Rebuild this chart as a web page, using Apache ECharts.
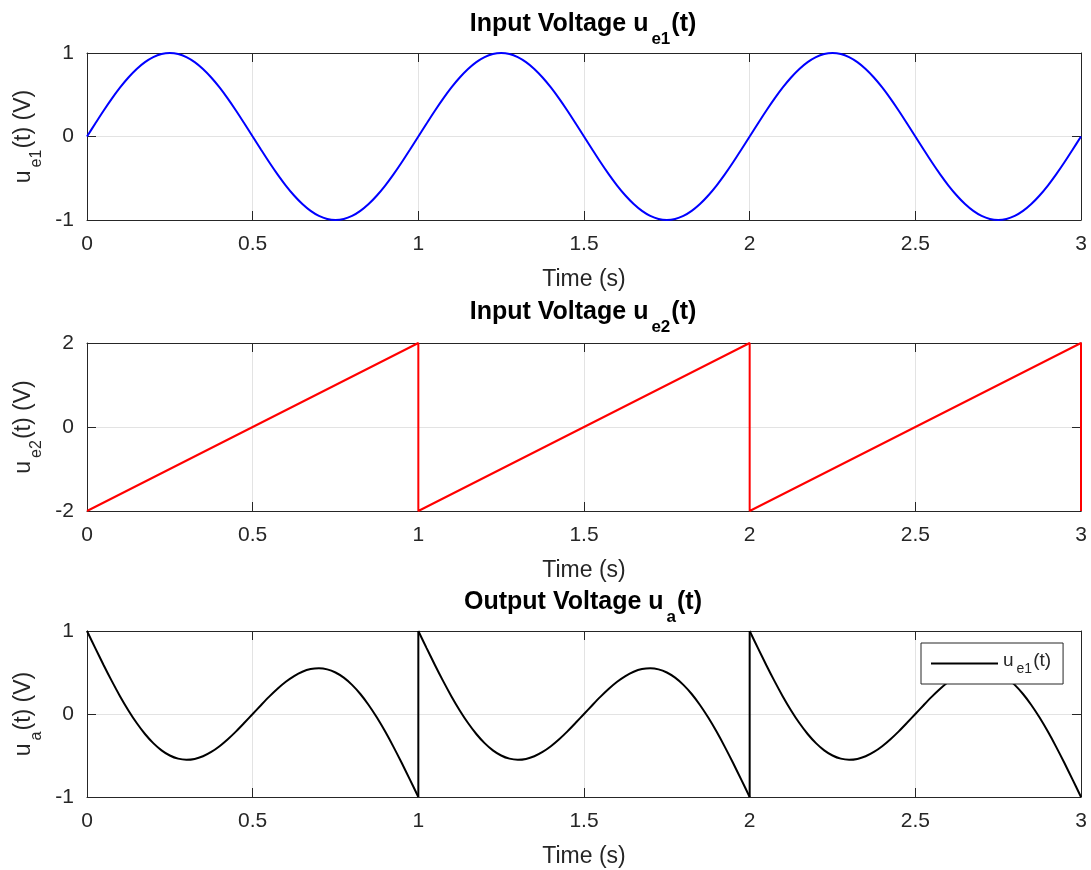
<!DOCTYPE html>
<html>
<head>
<meta charset="utf-8">
<script src="https://cdn.jsdelivr.net/npm/echarts@6/dist/echarts.min.js"></script>
<style>
  html, body { margin: 0; background: #fff; }
  #chart { width: 1091px; height: 870px; }
</style>
</head>
<body>
<div id="chart"></div>
<script>
// input voltage u_e1, sampled every 0.025 s
const sineTime = [0, 0.025, 0.05, 0.075, 0.1, 0.125, 0.15, 0.175, 0.2, 0.225, 0.25, 0.275, 0.3, 0.325, 0.35, 0.375, 0.4, 0.425, 0.45, 0.475,
  0.5, 0.525, 0.55, 0.575, 0.6, 0.625, 0.65, 0.675, 0.7, 0.725, 0.75, 0.775, 0.8, 0.825, 0.85, 0.875, 0.9, 0.925, 0.95, 0.975,
  1, 1.025, 1.05, 1.075, 1.1, 1.125, 1.15, 1.175, 1.2, 1.225, 1.25, 1.275, 1.3, 1.325, 1.35, 1.375, 1.4, 1.425, 1.45, 1.475,
  1.5, 1.525, 1.55, 1.575, 1.6, 1.625, 1.65, 1.675, 1.7, 1.725, 1.75, 1.775, 1.8, 1.825, 1.85, 1.875, 1.9, 1.925, 1.95, 1.975,
  2, 2.025, 2.05, 2.075, 2.1, 2.125, 2.15, 2.175, 2.2, 2.225, 2.25, 2.275, 2.3, 2.325, 2.35, 2.375, 2.4, 2.425, 2.45, 2.475,
  2.5, 2.525, 2.55, 2.575, 2.6, 2.625, 2.65, 2.675, 2.7, 2.725, 2.75, 2.775, 2.8, 2.825, 2.85, 2.875, 2.9, 2.925, 2.95, 2.975, 3]
const sineValue = [0, 0.156, 0.309, 0.454, 0.588, 0.707, 0.809, 0.891, 0.951, 0.988, 1, 0.988, 0.951, 0.891, 0.809, 0.707, 0.588, 0.454, 0.309, 0.156,
  0, -0.156, -0.309, -0.454, -0.588, -0.707, -0.809, -0.891, -0.951, -0.988, -1, -0.988, -0.951, -0.891, -0.809, -0.707, -0.588, -0.454, -0.309, -0.156,
  0, 0.156, 0.309, 0.454, 0.588, 0.707, 0.809, 0.891, 0.951, 0.988, 1, 0.988, 0.951, 0.891, 0.809, 0.707, 0.588, 0.454, 0.309, 0.156,
  0, -0.156, -0.309, -0.454, -0.588, -0.707, -0.809, -0.891, -0.951, -0.988, -1, -0.988, -0.951, -0.891, -0.809, -0.707, -0.588, -0.454, -0.309, -0.156,
  0, 0.156, 0.309, 0.454, 0.588, 0.707, 0.809, 0.891, 0.951, 0.988, 1, 0.988, 0.951, 0.891, 0.809, 0.707, 0.588, 0.454, 0.309, 0.156,
  0, -0.156, -0.309, -0.454, -0.588, -0.707, -0.809, -0.891, -0.951, -0.988, -1, -0.988, -0.951, -0.891, -0.809, -0.707, -0.588, -0.454, -0.309, -0.156, 0]

// input voltage u_e2 (sawtooth corners)
const sawTime = [0, 1, 1, 2, 2, 3, 3]
const sawValue = [-2, 2, -2, 2, -2, 2, -2]

// output voltage u_a, one list per period, sampled every 0.025 s inside the period
const periodStart = [0, 1, 2]
const outPhase = [0, 0.025, 0.05, 0.075, 0.1, 0.125, 0.15, 0.175, 0.2, 0.225, 0.25, 0.275, 0.3, 0.325, 0.35, 0.375, 0.4, 0.425, 0.45, 0.475,
  0.5, 0.525, 0.55, 0.575, 0.6, 0.625, 0.65, 0.675, 0.7, 0.725, 0.75, 0.775, 0.8, 0.825, 0.85, 0.875, 0.9, 0.925, 0.95, 0.975, 1]
const outPeriod1 = [1, 0.794, 0.591, 0.396, 0.212, 0.043, -0.109, -0.241, -0.351, -0.438, -0.5, -0.538, -0.551, -0.541, -0.509, -0.457, -0.388, -0.304, -0.209, -0.106,
  0, 0.106, 0.209, 0.304, 0.388, 0.457, 0.509, 0.541, 0.551, 0.538, 0.5, 0.438, 0.351, 0.241, 0.109, -0.043, -0.212, -0.396, -0.591, -0.794, -1]
const outPeriod2 = [1, 0.794, 0.591, 0.396, 0.212, 0.043, -0.109, -0.241, -0.351, -0.438, -0.5, -0.538, -0.551, -0.541, -0.509, -0.457, -0.388, -0.304, -0.209, -0.106,
  0, 0.106, 0.209, 0.304, 0.388, 0.457, 0.509, 0.541, 0.551, 0.538, 0.5, 0.438, 0.351, 0.241, 0.109, -0.043, -0.212, -0.396, -0.591, -0.794, -1]
const outPeriod3 = [1, 0.794, 0.591, 0.396, 0.212, 0.043, -0.109, -0.241, -0.351, -0.438, -0.5, -0.538, -0.551, -0.541, -0.509, -0.457, -0.388, -0.304, -0.209, -0.106,
  0, 0.106, 0.209, 0.304, 0.388, 0.457, 0.509, 0.541, 0.551, 0.538, 0.5, 0.438, 0.351, 0.241, 0.109, -0.043, -0.212, -0.396, -0.591, -0.794, -1]
const outPeriods = [outPeriod1, outPeriod2, outPeriod3]

const FONT = '"Liberation Sans", Arial, Helvetica, sans-serif'
const AXIS = '#262626'

function rich(size, sub, weight, color, lh) {
  return {
    m: { fontSize: size, fontWeight: weight, color, fontFamily: FONT, verticalAlign: 'top', lineHeight: lh },
    s: { fontSize: sub, fontWeight: weight, color, fontFamily: FONT, verticalAlign: 'bottom', padding: [0, 1, 0, 3] },
  }
}

const grids = [
  { left: 87, top: 53, width: 994, height: 167 },
  { left: 87, top: 343, width: 994, height: 168 },
  { left: 87, top: 631, width: 994, height: 166 },
]
const titleParts = [['Input Voltage u', 'e1'], ['Input Voltage u', 'e2'], ['Output Voltage u', 'a']]
const titleTops = [12, 300, 590]
const ySubs = ['e1', 'e2', 'a']
const yRanges = [[-1, 1, 1], [-2, 2, 2], [-1, 1, 1]]

const xAxes = []
const yAxes = []
grids.forEach((g, i) => {
  const line = { show: true, onZero: false, lineStyle: { color: AXIS, width: 1 } }
  const tick = { show: true, inside: true, length: 9, lineStyle: { color: AXIS } }
  xAxes.push({
    gridIndex: i, type: 'value', min: 0, max: 3, interval: 0.5, position: 'bottom',
    axisLine: line, axisTick: tick,
    axisLabel: { margin: 14, fontSize: 21, color: AXIS, fontFamily: FONT },
    splitLine: { show: true, lineStyle: { color: '#e3e3e3' } },
    name: 'Time (s)', nameLocation: 'middle', nameGap: 48,
    nameTextStyle: { fontSize: 23, color: AXIS, fontFamily: FONT },
  })
  xAxes.push({
    gridIndex: i, type: 'value', min: 0, max: 3, interval: 0.5, position: 'top',
    axisLine: line, axisTick: tick, axisLabel: { show: false }, splitLine: { show: false },
  })
  const [mn, mx, step] = yRanges[i]
  yAxes.push({
    gridIndex: i, type: 'value', min: mn, max: mx, interval: step, position: 'left',
    axisLine: line, axisTick: tick,
    axisLabel: { margin: 13, fontSize: 21, color: AXIS, fontFamily: FONT },
    splitLine: { show: true, lineStyle: { color: '#e3e3e3' } },
    name: `{m|u}{s|${ySubs[i]}}{m|(t) (V)}`, nameLocation: 'middle', nameRotate: 90, nameGap: 40,
    nameTextStyle: { rich: rich(23, 16, 'normal', AXIS, 32) },
  })
  yAxes.push({
    gridIndex: i, type: 'value', min: mn, max: mx, interval: step, position: 'right',
    axisLine: line, axisTick: tick, axisLabel: { show: false }, splitLine: { show: false },
  })
})

const blackLine = { color: '#000', width: 2 }
const outSeries = periodStart.map((start, p) => ({
  name: 'ue1', type: 'line', xAxisIndex: 4, yAxisIndex: 4,
  data: outPhase.map((ph, k) => [start + ph, outPeriods[p][k]]),
  smooth: 0.3, symbol: 'none', clip: false,
  itemStyle: { color: '#000' }, lineStyle: blackLine,
}))
// vertical jumps between periods
const jumpData = []
periodStart.slice(1).forEach((start, p) => {
  jumpData.push([start, outPeriods[p][outPeriods[p].length - 1]], [start, outPeriods[p + 1][0]], null)
})
outSeries.push({
  name: 'ue1', type: 'line', xAxisIndex: 4, yAxisIndex: 4,
  data: jumpData, symbol: 'none', clip: false, connectNulls: false,
  itemStyle: { color: '#000' }, lineStyle: blackLine,
})

const chart = echarts.init(document.getElementById('chart'))
chart.setOption({
  animation: false,
  backgroundColor: '#fff',
  title: titleParts.map((t, i) => ({
    text: `{m|${t[0]}}{s|${t[1]}}{m|(t)}`,
    left: 583, top: titleTops[i], textAlign: 'center', padding: 0,
    textStyle: { rich: rich(25, 17, 'bold', '#000', 36) },
  })),
  grid: grids,
  xAxis: xAxes,
  yAxis: yAxes,
  legend: {
    data: ['ue1'], left: 921, top: 643, orient: 'vertical',
    padding: [8, 12, 8, 10], itemWidth: 67, itemHeight: 2, itemGap: 0, icon: 'rect',
    backgroundColor: '#fff', borderColor: AXIS, borderWidth: 1, borderRadius: 0,
    formatter: () => '{m|u}{s|e1}{m|(t)}',
    textStyle: { rich: rich(19, 14, 'normal', AXIS, 25) },
  },
  series: [
    {
      name: 'ue1-input', type: 'line', xAxisIndex: 0, yAxisIndex: 0,
      data: sineTime.map((t, k) => [t, sineValue[k]]),
      smooth: 0.3, symbol: 'none', clip: false,
      lineStyle: { color: '#0000ff', width: 2 },
    },
    {
      name: 'ue2', type: 'line', xAxisIndex: 2, yAxisIndex: 2,
      data: sawTime.map((t, k) => [t, sawValue[k]]),
      symbol: 'none', clip: false,
      lineStyle: { color: '#ff0000', width: 2 },
    },
    ...outSeries,
  ],
})
</script>
</body>
</html>
